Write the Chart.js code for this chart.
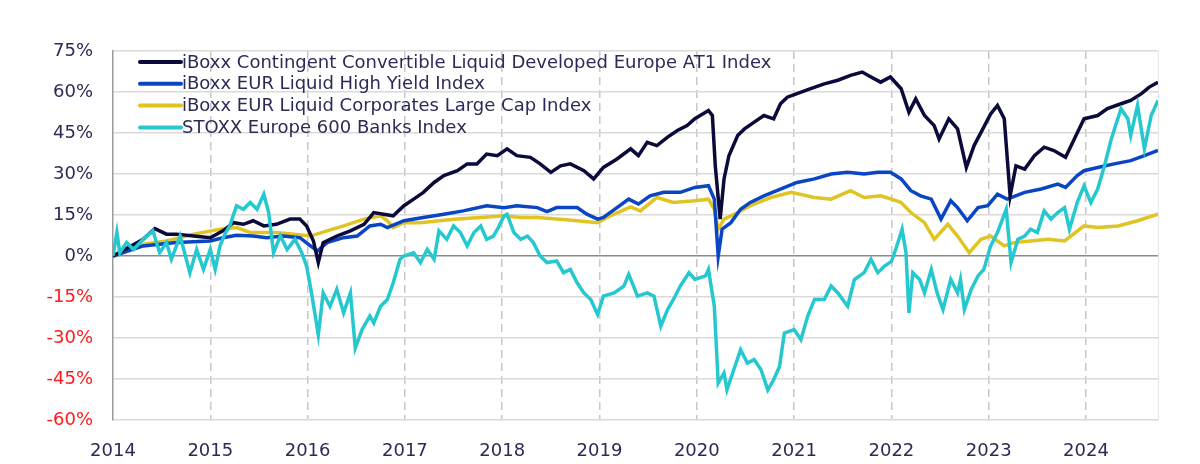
<!DOCTYPE html>
<html>
<head>
<meta charset="utf-8">
<script src="https://cdn.jsdelivr.net/npm/chart.js@4.4.1/dist/chart.umd.min.js"></script>
<style>
  html, body { margin: 0; padding: 0; background: #fff; }
  #wrap { width: 1200px; height: 464px; }
</style>
</head>
<body>
<div id="wrap"><canvas id="chartAT1"></canvas></div>
<script>
// Performance cumulée depuis le 01/01/2014 (en %)
const seriesNames = [
  'iBoxx Contingent Convertible Liquid Developed Europe AT1 Index',
  'iBoxx EUR Liquid High Yield Index',
  'iBoxx EUR Liquid Corporates Large Cap Index',
  'STOXX Europe 600 Banks Index'
];
const seriesColors = ['#0b0b3b', '#0a46c4', '#e0c422', '#26c8d0'];

const yearTicks = [2014, 2015, 2016, 2017, 2018, 2019, 2020, 2021, 2022, 2023, 2024];
const yMin = -60, yMax = 75, yStep = 15;
const xEnd = 2024.74;

const at1Years = [2014.00, 2014.31, 2014.43, 2014.55, 2014.65, 2014.83, 2015.00, 2015.13, 2015.24, 2015.34, 2015.44, 2015.55, 2015.68, 2015.82, 2015.92, 2015.99, 2016.06, 2016.11, 2016.16, 2016.30, 2016.44, 2016.58, 2016.68, 2016.78, 2016.88, 2016.99, 2017.09, 2017.19, 2017.30, 2017.40, 2017.54, 2017.64, 2017.74, 2017.84, 2017.95, 2018.05, 2018.15, 2018.29, 2018.39, 2018.50, 2018.60, 2018.70, 2018.84, 2018.94, 2019.04, 2019.18, 2019.32, 2019.40, 2019.49, 2019.59, 2019.70, 2019.80, 2019.90, 2019.98, 2020.12, 2020.16, 2020.19, 2020.24, 2020.28, 2020.33, 2020.42, 2020.49, 2020.59, 2020.69, 2020.79, 2020.86, 2020.93, 2021.03, 2021.17, 2021.31, 2021.45, 2021.58, 2021.70, 2021.79, 2021.89, 2021.99, 2022.10, 2022.18, 2022.25, 2022.34, 2022.44, 2022.49, 2022.59, 2022.68, 2022.77, 2022.85, 2022.94, 2023.02, 2023.09, 2023.16, 2023.22, 2023.28, 2023.37, 2023.47, 2023.57, 2023.67, 2023.79, 2023.88, 2023.98, 2024.12, 2024.22, 2024.36, 2024.46, 2024.57, 2024.65, 2024.74];
const at1Values = [0, 6.1, 10.0, 8.0, 8.0, 7.3, 6.7, 9.2, 12.2, 11.6, 12.9, 11.0, 11.6, 13.5, 13.5, 11.0, 5.5, -2.4, 4.9, 7.3, 9.2, 11.6, 15.9, 15.3, 14.7, 18.4, 20.8, 23.3, 26.9, 29.4, 31.2, 33.7, 33.7, 37.3, 36.7, 39.2, 36.7, 36.1, 33.7, 30.6, 33.0, 33.7, 31.2, 28.2, 32.4, 35.5, 39.2, 36.7, 41.6, 40.4, 43.5, 45.9, 47.7, 50.2, 53.2, 51.4, 33.0, 13.5, 28.2, 36.7, 44.1, 46.5, 49.0, 51.4, 50.2, 55.7, 58.1, 59.4, 61.2, 63.0, 64.3, 66.1, 67.3, 65.5, 63.6, 65.5, 61.2, 52.6, 57.5, 51.4, 47.7, 42.8, 50.2, 46.5, 32.4, 40.4, 46.5, 52.0, 55.1, 50.2, 22.0, 33.0, 31.8, 36.7, 39.8, 38.6, 36.1, 42.8, 50.2, 51.4, 53.9, 55.7, 56.9, 59.4, 61.8, 63.6];

const hyYears = [2014.00, 2014.31, 2014.65, 2015.00, 2015.13, 2015.27, 2015.44, 2015.58, 2015.75, 2015.92, 2016.03, 2016.10, 2016.20, 2016.37, 2016.51, 2016.64, 2016.75, 2016.82, 2016.99, 2017.19, 2017.40, 2017.60, 2017.84, 2018.02, 2018.15, 2018.36, 2018.46, 2018.56, 2018.77, 2018.87, 2018.98, 2019.04, 2019.18, 2019.30, 2019.40, 2019.52, 2019.66, 2019.83, 2019.98, 2020.12, 2020.18, 2020.22, 2020.26, 2020.35, 2020.45, 2020.55, 2020.69, 2020.86, 2021.03, 2021.21, 2021.38, 2021.55, 2021.72, 2021.86, 2021.99, 2022.10, 2022.20, 2022.30, 2022.41, 2022.51, 2022.61, 2022.68, 2022.78, 2022.89, 2022.99, 2023.09, 2023.19, 2023.23, 2023.37, 2023.54, 2023.71, 2023.79, 2023.91, 2023.98, 2024.12, 2024.29, 2024.46, 2024.60, 2024.74];
const hyValues = [0, 3.7, 4.9, 5.5, 6.7, 7.6, 7.3, 6.7, 7.3, 6.7, 3.7, 1.8, 4.9, 6.7, 7.3, 11.0, 11.6, 10.4, 12.9, 14.1, 15.3, 16.5, 18.4, 17.7, 18.4, 17.7, 16.2, 17.7, 17.7, 15.3, 13.5, 14.1, 17.7, 20.8, 19.0, 22.0, 23.3, 23.3, 25.1, 25.7, 20.8, 0, 9.8, 12.2, 17.1, 19.6, 22.0, 24.5, 26.9, 28.2, 30.0, 30.6, 30.0, 30.6, 30.6, 28.2, 23.9, 22.0, 20.8, 13.5, 20.2, 17.7, 12.9, 17.7, 18.4, 22.6, 20.8, 21.4, 23.3, 24.5, 26.3, 25.1, 29.4, 31.2, 32.4, 33.7, 34.9, 36.7, 38.6];

const corpYears = [2014.00, 2014.31, 2014.55, 2014.83, 2015.10, 2015.27, 2015.41, 2015.55, 2015.68, 2015.86, 2016.03, 2016.20, 2016.37, 2016.58, 2016.75, 2016.82, 2016.88, 2016.99, 2017.16, 2017.35, 2017.54, 2017.78, 2018.02, 2018.19, 2018.36, 2018.56, 2018.77, 2018.98, 2019.11, 2019.32, 2019.42, 2019.59, 2019.76, 2019.98, 2020.12, 2020.18, 2020.22, 2020.28, 2020.42, 2020.55, 2020.76, 2020.97, 2021.21, 2021.38, 2021.58, 2021.72, 2021.89, 2022.00, 2022.10, 2022.20, 2022.34, 2022.44, 2022.58, 2022.68, 2022.80, 2022.92, 2023.02, 2023.16, 2023.26, 2023.43, 2023.61, 2023.78, 2023.98, 2024.12, 2024.33, 2024.53, 2024.74];
const corpValues = [0, 4.3, 5.5, 8.0, 9.8, 10.4, 8.6, 8.6, 8.6, 8.0, 7.3, 9.2, 11.0, 13.5, 14.7, 12.9, 10.4, 12.2, 12.2, 12.9, 13.5, 14.1, 14.7, 14.1, 14.1, 13.5, 12.9, 12.2, 14.7, 18.0, 16.5, 21.4, 19.6, 20.2, 20.8, 17.1, 9.8, 13.5, 15.9, 18.4, 21.4, 23.3, 21.4, 20.8, 23.9, 21.4, 22.0, 20.8, 19.6, 15.9, 12.2, 6.1, 11.6, 7.3, 1.2, 6.1, 7.3, 3.7, 4.9, 5.5, 6.1, 5.5, 11.0, 10.4, 11.0, 12.9, 15.3];

const banksYears = [2014.00, 2014.04, 2014.07, 2014.14, 2014.21, 2014.31, 2014.41, 2014.48, 2014.55, 2014.60, 2014.69, 2014.79, 2014.86, 2014.93, 2015.00, 2015.05, 2015.10, 2015.15, 2015.20, 2015.27, 2015.34, 2015.41, 2015.48, 2015.55, 2015.60, 2015.65, 2015.72, 2015.79, 2015.87, 2015.94, 2015.99, 2016.04, 2016.11, 2016.16, 2016.23, 2016.30, 2016.37, 2016.44, 2016.49, 2016.56, 2016.64, 2016.68, 2016.75, 2016.82, 2016.88, 2016.95, 2016.99, 2017.09, 2017.16, 2017.23, 2017.30, 2017.35, 2017.43, 2017.50, 2017.57, 2017.64, 2017.71, 2017.78, 2017.84, 2017.91, 2017.96, 2018.02, 2018.05, 2018.12, 2018.19, 2018.26, 2018.32, 2018.39, 2018.46, 2018.56, 2018.63, 2018.70, 2018.77, 2018.84, 2018.91, 2018.98, 2019.04, 2019.15, 2019.25, 2019.30, 2019.35, 2019.39, 2019.49, 2019.56, 2019.63, 2019.70, 2019.76, 2019.83, 2019.92, 2019.98, 2020.09, 2020.12, 2020.18, 2020.22, 2020.28, 2020.31, 2020.38, 2020.45, 2020.52, 2020.59, 2020.66, 2020.73, 2020.79, 2020.85, 2020.90, 2021.00, 2021.07, 2021.14, 2021.21, 2021.31, 2021.38, 2021.45, 2021.55, 2021.62, 2021.72, 2021.79, 2021.86, 2021.93, 2022.00, 2022.05, 2022.11, 2022.15, 2022.18, 2022.22, 2022.29, 2022.34, 2022.41, 2022.47, 2022.53, 2022.61, 2022.68, 2022.71, 2022.75, 2022.82, 2022.89, 2022.95, 2023.02, 2023.09, 2023.18, 2023.23, 2023.30, 2023.37, 2023.43, 2023.50, 2023.57, 2023.64, 2023.71, 2023.78, 2023.83, 2023.91, 2023.98, 2024.05, 2024.12, 2024.19, 2024.26, 2024.36, 2024.43, 2024.46, 2024.53, 2024.60, 2024.67, 2024.74];
const banksValues = [0, 8.6, 1.2, 4.9, 2.4, 6.1, 9.2, 1.2, 4.9, -1.2, 7.3, -6.1, 2.4, -4.9, 2.4, -4.9, 3.7, 8.0, 11.0, 18.4, 17.1, 19.6, 17.1, 22.6, 15.9, 1.2, 7.3, 2.4, 6.1, 1.2, -3.7, -13.5, -28.8, -13.5, -18.4, -12.2, -20.8, -13.5, -33.7, -26.9, -22.0, -24.5, -18.4, -15.9, -9.8, -1.2, 0, 1.2, -2.4, 2.4, -1.2, 9.2, 6.1, 11.0, 8.6, 3.7, 8.6, 11.0, 6.1, 7.3, 10.4, 14.7, 15.3, 8.6, 6.1, 7.3, 4.9, 0, -2.4, -1.8, -6.1, -4.9, -9.8, -13.5, -15.9, -21.4, -14.7, -13.5, -11.0, -6.7, -11.0, -14.7, -13.5, -14.7, -25.7, -19.6, -15.9, -11.0, -6.1, -8.6, -7.3, -4.9, -18.4, -46.5, -42.8, -49.0, -41.6, -34.3, -39.2, -37.9, -41.6, -49.0, -45.3, -40.4, -28.2, -26.9, -30.6, -22.0, -15.9, -15.9, -11.0, -13.5, -18.4, -8.6, -6.1, -1.2, -6.1, -3.7, -2.0, 3.0, 9.8, 1.2, -20.8, -6.1, -8.6, -13.5, -4.9, -13.5, -19.6, -8.6, -13.5, -8.6, -19.6, -12.2, -7.3, -4.9, 3.7, 8.6, 17.1, -2.4, 6.1, 7.3, 9.8, 8.6, 16.5, 13.5, 15.9, 17.7, 9.8, 19.6, 25.7, 19.6, 24.5, 33.0, 42.8, 53.9, 50.2, 44.1, 55.1, 39.2, 51.4, 56.9];

const FONT = 'DejaVu Sans';
const textColor = '#2b2b55';

function points(xs, ys) { return xs.map((x, i) => ({ x, y: ys[i] })); }

// légende dessinée dans la zone du graphique (en haut à gauche)
const legendInside = {
  id: 'legendInside',
  afterDatasetsDraw(chart) {
    const ctx = chart.ctx, area = chart.chartArea;
    ctx.save();
    ctx.font = '18px "' + FONT + '"';
    ctx.textBaseline = 'middle';
    seriesNames.forEach((name, i) => {
      const y = area.top + 11 + i * 21.8;
      const x0 = area.left + 27;
      ctx.strokeStyle = seriesColors[i];
      ctx.lineWidth = 4;
      ctx.lineCap = 'round';
      ctx.beginPath(); ctx.moveTo(x0, y); ctx.lineTo(x0 + 41, y); ctx.stroke();
      ctx.fillStyle = textColor;
      ctx.fillText(name, x0 + 42, y + 1);
    });
    ctx.restore();
  }
};

const frame = {
  id: 'frame',
  beforeDatasetsDraw(chart) {
    const ctx = chart.ctx, a = chart.chartArea;
    ctx.save();
    ctx.strokeStyle = '#e6e6e6';
    ctx.lineWidth = 1;
    ctx.beginPath(); ctx.moveTo(a.right + 0.5, a.top); ctx.lineTo(a.right + 0.5, a.bottom); ctx.stroke();
    ctx.restore();
  }
};

const allYears = [at1Years, hyYears, corpYears, banksYears];
const allValues = [at1Values, hyValues, corpValues, banksValues];
const drawOrder = [2, 3, 4, 1];

new Chart(document.getElementById('chartAT1'), {
  type: 'line',
  data: {
    datasets: seriesNames.map((name, i) => ({
      label: name,
      data: points(allYears[i], allValues[i]),
      borderColor: seriesColors[i],
      backgroundColor: seriesColors[i],
      borderWidth: 3.5,
      pointRadius: 0,
      tension: 0,
      order: drawOrder[i]
    }))
  },
  options: {
    responsive: true,
    maintainAspectRatio: false,
    animation: false,
    layout: { padding: { top: 51, right: 42, bottom: 0, left: 0 } },
    plugins: { legend: { display: false }, tooltip: { enabled: false } },
    scales: {
      x: {
        type: 'linear',
        min: yearTicks[0],
        max: xEnd,
        afterFit: s => { s.height = 44; },
        afterBuildTicks: s => { s.ticks = yearTicks.map(v => ({ value: v })); },
        grid: {
          color: c => (c.tick && c.tick.value === yearTicks[0]) ? 'rgba(0,0,0,0)' : '#c8c8c8',
          lineWidth: 1.5,
          drawTicks: false
        },
        border: { display: false, dash: [8, 5] },
        ticks: {
          color: textColor,
          font: { family: FONT, size: 18 },
          padding: 21,
          callback: v => String(v)
        }
      },
      y: {
        min: yMin,
        max: yMax,
        afterFit: s => { s.width = 113; },
        grid: {
          color: c => (c.tick && c.tick.value === 0) ? '#8a8a8a' : '#dadada',
          lineWidth: 1.5,
          drawTicks: false
        },
        border: { display: true, color: '#9a9a9a', width: 1.5 },
        ticks: {
          stepSize: yStep,
          color: c => (c.tick && c.tick.value < 0) ? '#ff1a1a' : textColor,
          font: { family: FONT, size: 18 },
          padding: 20,
          callback: v => v + '%'
        }
      }
    }
  },
  plugins: [frame, legendInside]
});
</script>
</body>
</html>
